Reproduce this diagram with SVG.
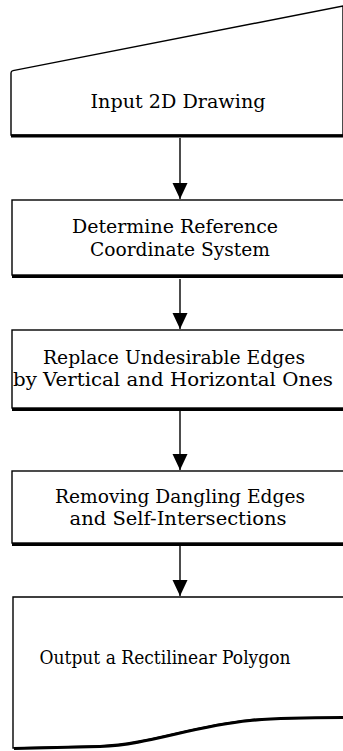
<svg xmlns="http://www.w3.org/2000/svg" width="343" height="751" viewBox="0 0 343 751">
<style>
.box{fill:#fff;stroke:#000;stroke-width:1.4}
.shadow{fill:none;stroke:#000;stroke-width:3.2}
.lbl{font-family:"DejaVu Serif","Liberation Serif",serif;font-size:19px;fill:#000;text-anchor:middle}
.conn{stroke:#000;stroke-width:1.4;fill:none;marker-end:url(#ah)}
</style>
<defs>
<marker id="ah" markerUnits="userSpaceOnUse" markerWidth="16" markerHeight="16" refX="16" refY="7.5" orient="auto" viewBox="0 0 16 15">
<path d="M0,0 L16,7.5 L0,15 Z" fill="#000"/>
</marker>
</defs>
<rect width="343" height="751" fill="#fff"/>
<g id="connectors">
<path class="conn" d="M180,138 V199"/>
<path class="conn" d="M180,279 V329"/>
<path class="conn" d="M180,411 V470"/>
<path class="conn" d="M180,546 V596"/>
</g>
<g id="n1">
<path class="box" d="M11,135 V73 Q11,71 13,70.6 L343,6 V135 Z"/>
<path class="shadow" d="M11,136 H343"/>
<text class="lbl" x="178" y="108" textLength="175" lengthAdjust="spacingAndGlyphs">Input 2D Drawing</text>
</g>
<g id="n2">
<rect class="box" x="12" y="200" width="332" height="75"/>
<path class="shadow" d="M12,276.5 H343"/>
<text class="lbl" x="175" y="233" textLength="206" lengthAdjust="spacingAndGlyphs">Determine Reference</text>
<text class="lbl" x="180" y="256" textLength="180" lengthAdjust="spacingAndGlyphs">Coordinate System</text>
</g>
<g id="n3">
<rect class="box" x="12" y="330" width="332" height="78"/>
<path class="shadow" d="M12,409.5 H343"/>
<text class="lbl" x="174" y="364" textLength="262" lengthAdjust="spacingAndGlyphs">Replace Undesirable Edges</text>
<text class="lbl" x="173" y="386" textLength="320" lengthAdjust="spacingAndGlyphs">by Vertical and Horizontal Ones</text>
</g>
<g id="n4">
<rect class="box" x="12" y="471" width="332" height="72"/>
<path class="shadow" d="M12,544.5 H343"/>
<text class="lbl" x="180" y="503" textLength="250" lengthAdjust="spacingAndGlyphs">Removing Dangling Edges</text>
<text class="lbl" x="178" y="525" textLength="217" lengthAdjust="spacingAndGlyphs">and Self-Intersections</text>
</g>
<g id="n5">
<path class="box" d="M13,748 V597 H344 V718 C300,718 270,718 250,720 C190,726 150,744 100,746 L13,748 Z"/>
<path class="shadow" d="M14,748.5 L100,746.5 C150,744.5 190,726.5 250,720.5 C270,718.5 300,717.5 343,717.5"/>
<text class="lbl" x="165" y="664" textLength="251" lengthAdjust="spacingAndGlyphs">Output a Rectilinear Polygon</text>
</g>
</svg>
